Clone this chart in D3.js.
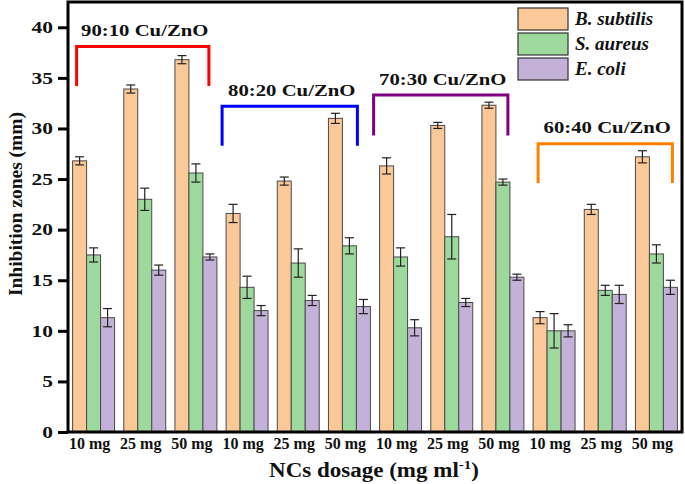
<!DOCTYPE html>
<html>
<head>
<meta charset="utf-8">
<script src="https://d3js.org/d3.v7.min.js"></script>
<style>
    body { margin: 0; background: #fff; }
    svg text { font-family: "Liberation Serif", "Times New Roman", serif; font-weight: bold; }
</style>
</head>
<body>
<svg id="svg"></svg>
<script>
    let visWidth = 685;
    let visHeight = 484;

    // data
    let groups = ['g0','g1','g2','g3','g4','g5','g6','g7','g8','g9','g10','g11'];
    let doseLabels = ['10 mg','25 mg','50 mg','10 mg','25 mg','50 mg','10 mg','25 mg','50 mg','10 mg','25 mg','50 mg'];
    let seriesNames = ['B. subtilis', 'S. aureus', 'E. coli'];
    let bSubtilis = [26.8, 33.9, 36.8, 21.6, 24.8, 31.0, 26.3, 30.3, 32.3, 11.3, 22.0, 27.2];
    let bSubtilisErr = [0.4, 0.4, 0.4, 0.9, 0.4, 0.5, 0.8, 0.3, 0.3, 0.6, 0.5, 0.6];
    let sAureus = [17.5, 23.0, 25.6, 14.3, 16.7, 18.4, 17.3, 19.3, 24.7, 10.0, 14.0, 17.6];
    let sAureusErr = [0.7, 1.1, 0.9, 1.1, 1.4, 0.8, 0.9, 2.2, 0.3, 1.7, 0.5, 0.9];
    let eColi = [11.3, 16.0, 17.3, 12.0, 13.0, 12.4, 10.3, 12.8, 15.3, 10.0, 13.6, 14.3];
    let eColiErr = [0.9, 0.5, 0.3, 0.5, 0.5, 0.7, 0.8, 0.4, 0.3, 0.6, 0.9, 0.7];
    let yTicks = [0, 5, 10, 15, 20, 25, 30, 35, 40];

    // ratio brackets: label, first/last group index, top and bottom of bracket (mm)
    let ratioLabels = ['90:10 Cu/ZnO', '80:20 Cu/ZnO', '70:30 Cu/ZnO', '60:40 Cu/ZnO'];
    let ratioFirst = [0, 3, 6, 9];
    let ratioLast = [2, 5, 8, 11];
    let ratioTop = [38.1, 32.2, 33.3, 28.5];
    let ratioBottom = [34.2, 28.3, 29.3, 24.6];

    let colors = ['#fbc898', '#9dd89d', '#c3b1d7'];
    let bracketColors = ['#ff0000', '#0000ff', '#800080', '#ff8000'];
    let bracketOffsets = [[4, -8], [-4, -13], [-6, -16], [5, -5]];

    let margin = {left: 68, right: 3, top: 2, bottom: 52};
    let plotRight = visWidth - margin.right;
    let plotBottom = visHeight - margin.bottom;

    let svg = d3.select('#svg')
        .attr('width', visWidth)
        .attr('height', visHeight);

    let xScale = d3.scaleBand()
        .domain(groups)
        .range([margin.left, plotRight])
        .paddingInner(0.18)
        .paddingOuter(0.09);

    let yScale = d3.scaleLinear()
        .domain([0, 42.5])
        .range([plotBottom, margin.top]);

    let xSub = d3.scaleBand()
        .domain(seriesNames)
        .range([0, xScale.bandwidth()]);

    let seriesVals = [bSubtilis, sAureus, eColi];
    let seriesErrs = [bSubtilisErr, sAureusErr, eColiErr];

    // bars
    seriesNames.forEach(function(name, s) {
        let rows = groups.map((g, i) => ({g: g, v: seriesVals[s][i], e: seriesErrs[s][i]}));
        svg.append('g').selectAll('rect')
            .data(rows)
            .enter()
            .append('rect')
            .attr('x', d => xScale(d.g) + xSub(name))
            .attr('y', d => yScale(d.v))
            .attr('width', xSub.bandwidth())
            .attr('height', d => yScale(0) - yScale(d.v))
            .attr('fill', colors[s])
            .attr('stroke', '#4a4a4a')
            .attr('stroke-width', 1);

        let eb = svg.append('g').selectAll('g')
            .data(rows)
            .enter()
            .append('g')
            .attr('stroke', '#222')
            .attr('stroke-width', 1.2);
        eb.append('line')
            .attr('x1', d => xScale(d.g) + xSub(name) + xSub.bandwidth() / 2)
            .attr('x2', d => xScale(d.g) + xSub(name) + xSub.bandwidth() / 2)
            .attr('y1', d => yScale(d.v - d.e))
            .attr('y2', d => yScale(d.v + d.e));
        [-1, 1].forEach(function(sign) {
            eb.append('line')
                .attr('x1', d => xScale(d.g) + xSub(name) + xSub.bandwidth() / 2 - 4.5)
                .attr('x2', d => xScale(d.g) + xSub(name) + xSub.bandwidth() / 2 + 4.5)
                .attr('y1', d => yScale(d.v + sign * d.e))
                .attr('y2', d => yScale(d.v + sign * d.e));
        });
    });

    // brackets
    ratioLabels.forEach(function(label, i) {
        let x1 = xScale(groups[ratioFirst[i]]) + bracketOffsets[i][0];
        let x2 = xScale(groups[ratioLast[i]]) + xScale.bandwidth() + bracketOffsets[i][1];
        let yt = yScale(ratioTop[i]);
        let yb = yScale(ratioBottom[i]);
        svg.append('path')
            .attr('d', `M${x1},${yb} L${x1},${yt} L${x2},${yt} L${x2},${yb}`)
            .attr('fill', 'none')
            .attr('stroke', bracketColors[i])
            .attr('stroke-width', 3);
        svg.append('text')
            .text(label)
            .attr('transform', `translate(${(x1 + x2) / 2 + 2}, ${yt - 10.5}) scale(1.22, 1)`)
            .attr('text-anchor', 'middle')
            .attr('font-size', '17px')
            .attr('fill', '#111');
    });

    // axes
    let yAxis = d3.axisLeft(yScale).tickValues(yTicks).tickSize(10).tickSizeOuter(0);
    let yAxisGroup = svg.append('g')
        .attr('transform', `translate(${margin.left}, 0)`)
        .call(yAxis);
    yAxisGroup.select('.domain').remove();
    yAxisGroup.selectAll('line').attr('stroke', '#000').attr('stroke-width', 3);
    yAxisGroup.selectAll('text')
        .attr('font-size', '16.5px')
        .attr('fill', '#111')
        .attr('x', 0)
        .attr('transform', 'translate(-15, 0) scale(1.3, 1)');

    let xAxis = d3.axisBottom(xScale).tickSize(0).tickFormat((d, i) => doseLabels[i]);
    let xAxisGroup = svg.append('g')
        .attr('transform', `translate(0, ${plotBottom})`)
        .call(xAxis);
    xAxisGroup.select('.domain').remove();
    xAxisGroup.selectAll('text')
        .attr('font-size', '16px')
        .attr('fill', '#111')
        .attr('dx', -4)
        .attr('y', 6);

    // frame
    svg.append('rect')
        .attr('x', margin.left)
        .attr('y', margin.top)
        .attr('width', plotRight - margin.left)
        .attr('height', plotBottom - margin.top)
        .attr('fill', 'none')
        .attr('stroke', '#000')
        .attr('stroke-width', 3);

    // axis titles
    svg.append('text')
        .text('Inhibition zones (mm)')
        .attr('transform', 'translate(22, 204) rotate(-90)')
        .attr('text-anchor', 'middle')
        .attr('font-size', '19.5px')
        .attr('fill', '#111');

    let xt = svg.append('text')
        .attr('transform', 'translate(374, 477) scale(1.15, 1)')
        .attr('text-anchor', 'middle')
        .attr('font-size', '20px')
        .attr('fill', '#111');
    xt.append('tspan').text('NCs dosage (mg ml');
    xt.append('tspan').text('-1').attr('font-size', '13px').attr('dy', -8);
    xt.append('tspan').text(')').attr('dy', 8);

    // legend
    let legend = svg.append('g').attr('transform', 'translate(518, 8)');
    seriesNames.forEach(function(name, i) {
        legend.append('rect')
            .attr('x', 0)
            .attr('y', i * 25)
            .attr('width', 50)
            .attr('height', 22)
            .attr('fill', colors[i])
            .attr('stroke', '#333')
            .attr('stroke-width', 1.2);
        legend.append('text')
            .text(name)
            .attr('x', 57)
            .attr('y', i * 25 + 17)
            .attr('font-size', '19px')
            .attr('font-style', 'italic')
            .attr('fill', '#111');
    });
</script>
</body>
</html>
